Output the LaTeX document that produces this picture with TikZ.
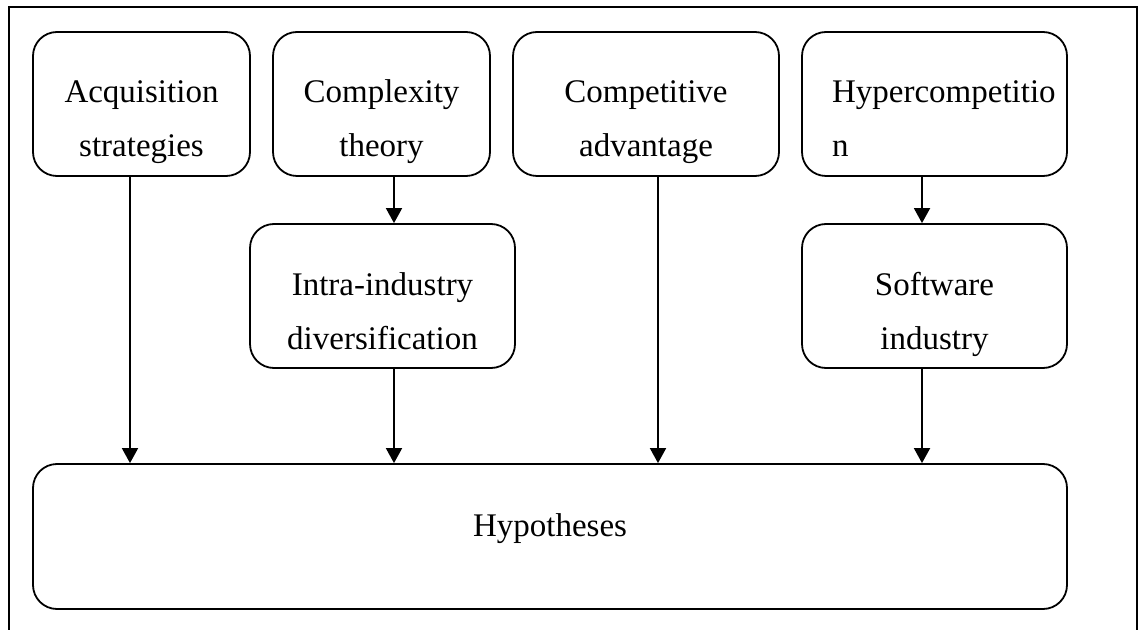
\documentclass[tikz,border=0pt]{standalone}
\usepackage{fontspec}
\setmainfont{Liberation Serif}
\usetikzlibrary{arrows.meta}

\begin{document}
\begin{tikzpicture}[x=0.5pt, y=-0.5pt,
  box/.style={rectangle, rounded corners=12pt, draw, line width=0.9pt, inner sep=0pt},
  lbl/.style={font=\fontsize{16.5}{27}\selectfont, align=center, anchor=base},
  flow/.style={-{Triangle[length=7.5pt, width=8pt]}, line width=0.9pt}]
  \useasboundingbox (0,0) rectangle (1139,630);
  % outer frame, open at the bottom
  \draw[line width=1pt] (9,630) -- (9,7) -- (1137,7) -- (1137,630);

  % top row (label nodes sit on the baseline of their last line)
  \node[box, minimum width=108.5pt, minimum height=72pt] (acq) at (141.5,104) {};
  \node[box, minimum width=108.5pt, minimum height=72pt] (cpx) at (381.5,104) {};
  \node[box, minimum width=133pt, minimum height=72pt] (comp) at (646,104) {};
  \node[box, minimum width=132.5pt, minimum height=72pt] (hc) at (934.5,104) {};
  \node[lbl] (acqtxt) at (141.5,157) {Acquisition\\strategies};
  \node[lbl] (cpxtxt) at (381.5,157) {Complexity\\theory};
  \node[lbl] (comptxt) at (646,157) {Competitive\\advantage};
  \node[lbl, align=left, anchor=base west] (hctxt) at (825,157) {Hypercompetitio\\n};

  % middle row
  \node[box, minimum width=132.5pt, minimum height=72pt] (intra) at (382.5,296) {};
  \node[box, minimum width=132.5pt, minimum height=72pt] (sw) at (934.5,296) {};
  \node[lbl] (intratxt) at (382.5,350) {Intra-industry\\diversification};
  \node[lbl] (swtxt) at (934.5,350) {Software\\industry};

  % bottom
  \node[box, minimum width=517pt, minimum height=72.5pt] (hyp) at (550,536.5) {};
  \node[lbl] (hyptxt) at (550,536) {Hypotheses};

  % arrows
  \foreach \src/\dst/\x in {acq/hyp/130, cpx/intra/394, intra/hyp/394,
                            comp/hyp/658, hc/sw/922, sw/hyp/922} {
    \draw[flow] (\src.south -| \x,0) -- (\dst.north -| \x,0);
  }
\end{tikzpicture}
\end{document}
